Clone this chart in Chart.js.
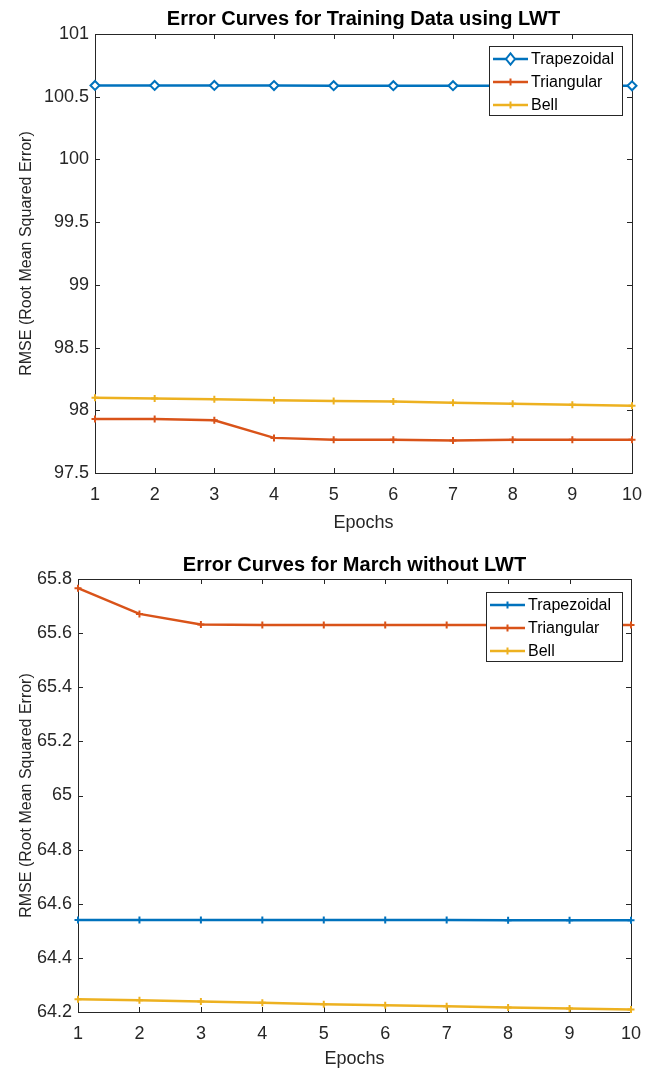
<!DOCTYPE html>
<html>
<head>
<meta charset="utf-8">
<title>Error Curves</title>
<script src="https://cdn.jsdelivr.net/npm/chart.js@4.4.0/dist/chart.umd.min.js"></script>
<style>
  html, body { margin: 0; padding: 0; background: #fff; }
  .wrap { position: relative; width: 656px; height: 535px; }
</style>
</head>
<body>
<div class="wrap"><canvas id="lwt-chart"></canvas></div>
<div class="wrap"><canvas id="march-chart"></canvas></div>
<script>
// Data
const epochs = [1, 2, 3, 4, 5, 6, 7, 8, 9, 10];
const seriesNames = ['Trapezoidal', 'Triangular', 'Bell'];

const lwtTrapezoidal = [100.59, 100.59, 100.59, 100.589, 100.588, 100.588, 100.588, 100.587, 100.587, 100.587];
const lwtTriangular = [97.93, 97.93, 97.92, 97.78, 97.765, 97.765, 97.76, 97.765, 97.765, 97.765];
const lwtBell = [98.1, 98.093, 98.087, 98.08, 98.075, 98.07, 98.06, 98.052, 98.045, 98.037];
const lwtTicks = [97.5, 98, 98.5, 99, 99.5, 100, 100.5, 101];

const marchTrapezoidal = [64.54, 64.54, 64.54, 64.54, 64.54, 64.54, 64.54, 64.539, 64.539, 64.539];
const marchTriangular = [65.766, 65.671, 65.632, 65.63, 65.63, 65.63, 65.63, 65.63, 65.63, 65.63];
const marchBell = [64.247, 64.243, 64.239, 64.234, 64.229, 64.225, 64.221, 64.217, 64.213, 64.209];
const marchTicks = [64.2, 64.4, 64.6, 64.8, 65, 65.2, 65.4, 65.6, 65.8];

const COLORS = ['#0072BD', '#D95319', '#EDB120'];
const AXIS_COLOR = '#262626';
const FONT = '"Liberation Sans", Arial, Helvetica, sans-serif';

const toPoints = (values) => epochs.map((e, i) => ({ x: e, y: values[i] }));

// MATLAB style box with inward tick marks on all sides
const matlabAxes = {
  id: 'matlabAxes',
  beforeDatasetsDraw(chart) {
    const { ctx, chartArea: a, scales } = chart;
    ctx.save();
    ctx.strokeStyle = AXIS_COLOR;
    ctx.lineWidth = 1;
    ctx.strokeRect(a.left + 0.5, a.top + 0.5, a.right - a.left, a.bottom - a.top);
    const len = 5;
    ctx.beginPath();
    scales.x.ticks.forEach(t => {
      const px = Math.round(scales.x.getPixelForValue(t.value)) + 0.5;
      ctx.moveTo(px, a.bottom); ctx.lineTo(px, a.bottom - len);
      ctx.moveTo(px, a.top); ctx.lineTo(px, a.top + len);
    });
    scales.y.ticks.forEach(t => {
      const py = Math.round(scales.y.getPixelForValue(t.value)) + 0.5;
      ctx.moveTo(a.left, py); ctx.lineTo(a.left + len, py);
      ctx.moveTo(a.right, py); ctx.lineTo(a.right - len, py);
    });
    ctx.stroke();
    ctx.restore();
  }
};

// Title centred over the plot area rather than the canvas
const plotTitle = {
  id: 'plotTitle',
  afterDraw(chart, args, opts) {
    const { ctx, chartArea: a } = chart;
    ctx.save();
    ctx.fillStyle = '#000';
    ctx.font = 'bold 20px ' + FONT;
    ctx.textAlign = 'center';
    ctx.textBaseline = 'middle';
    ctx.fillText(opts.text, (a.left + a.right) / 2, a.top - opts.offset);
    ctx.restore();
  }
};

function drawMarker(ctx, style, x, y, r) {
  ctx.beginPath();
  if (style === 'rectRot') {
    ctx.moveTo(x, y - r * 1.25);
    ctx.lineTo(x + r, y);
    ctx.lineTo(x, y + r * 1.25);
    ctx.lineTo(x - r, y);
    ctx.closePath();
    ctx.fill();
    ctx.stroke();
  } else {
    ctx.moveTo(x - r, y); ctx.lineTo(x + r, y);
    ctx.moveTo(x, y - r); ctx.lineTo(x, y + r);
    ctx.stroke();
  }
}

// Legend box inside the plot, top right
const boxLegend = {
  id: 'boxLegend',
  afterDraw(chart, args, opts) {
    const { ctx, chartArea: a } = chart;
    const w = opts.width, h = opts.height;
    const x = a.right - opts.right - w;
    const y = a.top + opts.top;
    ctx.save();
    ctx.fillStyle = '#fff';
    ctx.fillRect(x, y, w, h);
    ctx.strokeStyle = AXIS_COLOR;
    ctx.lineWidth = 1;
    ctx.strokeRect(x + 0.5, y + 0.5, w, h);
    chart.data.datasets.forEach((ds, i) => {
      const cy = y + 13 + i * 23;
      ctx.strokeStyle = ds.borderColor;
      ctx.lineWidth = ds.borderWidth;
      ctx.beginPath();
      ctx.moveTo(x + 4, cy);
      ctx.lineTo(x + 39, cy);
      ctx.stroke();
      ctx.fillStyle = ds.pointBackgroundColor;
      ctx.lineWidth = ds.pointBorderWidth;
      drawMarker(ctx, ds.pointStyle, x + 21.5, cy, ds.pointRadius);
      ctx.fillStyle = '#000';
      ctx.font = '16px ' + FONT;
      ctx.textAlign = 'left';
      ctx.textBaseline = 'middle';
      ctx.fillText(ds.label, x + 42, cy + 1);
    });
    ctx.restore();
  }
};

function makeDataset(i, values, style) {
  const diamond = style === 'rectRot';
  return {
    label: seriesNames[i],
    data: toPoints(values),
    borderColor: COLORS[i],
    borderWidth: 2.5,
    pointStyle: style,
    pointRadius: diamond ? 4.5 : 3.5,
    pointBorderWidth: 2,
    pointBorderColor: COLORS[i],
    pointBackgroundColor: diamond ? '#fff' : COLORS[i],
    tension: 0,
    clip: false
  };
}

function makeConfig(opts) {
  return {
    type: 'line',
    data: { datasets: opts.datasets },
    options: {
      responsive: true,
      maintainAspectRatio: false,
      animation: false,
      layout: { padding: { top: opts.padTop, right: opts.padRight, bottom: 0, left: 0 } },
      plugins: {
        legend: { display: false },
        tooltip: { enabled: false },
        plotTitle: { text: opts.title, offset: opts.titleOffset },
        boxLegend: { width: opts.legendWidth, height: 69, right: opts.legendRight, top: opts.legendTop }
      },
      scales: {
        x: {
          type: 'linear',
          min: 1,
          max: 10,
          afterBuildTicks: s => { s.ticks = epochs.map(v => ({ value: v })); },
          afterFit: s => { s.height = opts.xHeight; },
          grid: { display: false, drawTicks: false },
          border: { display: false },
          ticks: {
            color: AXIS_COLOR,
            font: { family: FONT, size: 18 },
            padding: 11,
            maxRotation: 0,
            callback: v => String(v)
          },
          title: {
            display: true,
            text: 'Epochs',
            color: AXIS_COLOR,
            font: { family: FONT, size: 18 },
            padding: { top: 0, bottom: opts.xTitlePad }
          }
        },
        y: {
          min: opts.yTicks[0],
          max: opts.yTicks[opts.yTicks.length - 1],
          afterBuildTicks: s => { s.ticks = opts.yTicks.map(v => ({ value: v })); },
          afterFit: s => { s.width = opts.yWidth; },
          grid: { display: false, drawTicks: false },
          border: { display: false },
          ticks: {
            color: AXIS_COLOR,
            font: { family: FONT, size: 18 },
            padding: 6,
            callback: v => String(v)
          },
          title: {
            display: true,
            text: 'RMSE (Root Mean Squared Error)',
            color: AXIS_COLOR,
            font: { family: FONT, size: 16 },
            padding: { top: 17, bottom: 0 }
          }
        }
      }
    },
    plugins: [matlabAxes, plotTitle, boxLegend]
  };
}

new Chart(document.getElementById('lwt-chart'), makeConfig({
  title: 'Error Curves for Training Data using LWT',
  titleOffset: 15,
  padTop: 34,
  padRight: 24,
  yWidth: 95,
  xHeight: 62,
  xTitlePad: 1,
  legendTop: 12,
  legendRight: 10,
  legendWidth: 133,
  yTicks: lwtTicks,
  datasets: [
    makeDataset(0, lwtTrapezoidal, 'rectRot'),
    makeDataset(1, lwtTriangular, 'cross'),
    makeDataset(2, lwtBell, 'cross')
  ]
}));

new Chart(document.getElementById('march-chart'), makeConfig({
  title: 'Error Curves for March without LWT',
  titleOffset: 14,
  padTop: 44,
  padRight: 25,
  yWidth: 78,
  xHeight: 58,
  xTitlePad: 0,
  legendTop: 13,
  legendRight: 9,
  legendWidth: 136,
  yTicks: marchTicks,
  datasets: [
    makeDataset(0, marchTrapezoidal, 'cross'),
    makeDataset(1, marchTriangular, 'cross'),
    makeDataset(2, marchBell, 'cross')
  ]
}));
</script>
</body>
</html>
